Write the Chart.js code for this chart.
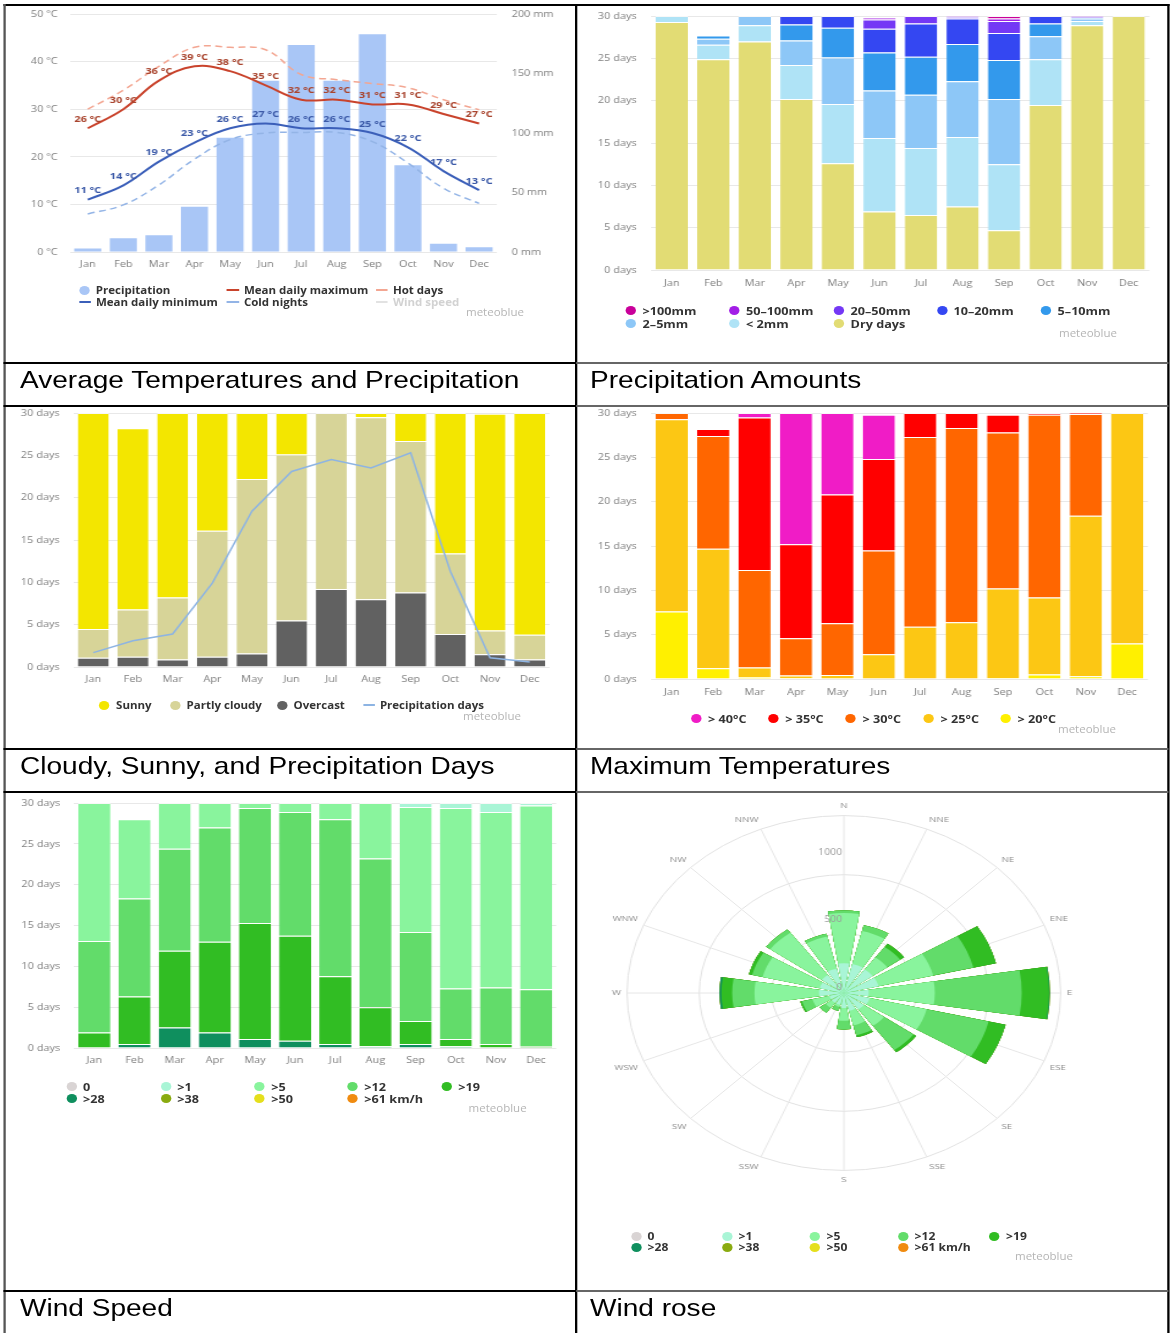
<!DOCTYPE html>
<html lang="en">
<head>
<meta charset="utf-8">
<title>Climate charts</title>
<script src="https://cdn.jsdelivr.net/npm/chart.js@4.4.1/dist/chart.umd.min.js"></script>
<style>
  html, body { margin: 0; padding: 0; background: #fff; width: 1172px; height: 1333px; overflow: hidden; }
  #root { position: absolute; left: 0; top: 0; height: 1333px; transform-origin: 0 0; font-family: "Open Sans", sans-serif; }
  .box, .rule, .cap, .lg, .mb { position: absolute; }
  .cap { font-family: "Liberation Sans", Arial, sans-serif; font-size: 24.4px; color: #000; white-space: nowrap; }
  .lg { display: flex; align-items: center; height: 16px; white-space: nowrap; font-weight: 700; color: #333; }
  .dot { width: 9px; height: 9px; border-radius: 50%; margin-right: 5.6px; flex: none; }
  .ln { width: 10.4px; height: 0; border-top: 2px solid; margin-right: 4.3px; flex: none; }
  .mb { font-size: 10px; color: #b5b5b5; line-height: 14px; }
</style>
</head>
<body>
<div id="root"></div>
<script>
// ---------- data ----------
const months = ['Jan', 'Feb', 'Mar', 'Apr', 'May', 'Jun', 'Jul', 'Aug', 'Sep', 'Oct', 'Nov', 'Dec'];

// 1. average temperatures and precipitation
const degTicks = [0, 10, 20, 30, 40, 50];
const mmTicks = [0, 50, 100, 150, 200];
const precipMm = [3, 11.5, 14, 38, 96, 144, 174, 144, 183, 73, 7, 4];
const meanMax = [26, 30, 36, 39, 38, 35, 32, 32, 31, 31, 29, 27];
const meanMin = [11, 14, 19, 23, 26, 27, 26, 26, 25, 22, 17, 13];
const hotDays = [30, 34, 39, 43, 43, 42.5, 37.3, 36.2, 35.4, 34.5, 32, 29.9];
const coldNights = [8, 9.9, 14.1, 19.5, 23.6, 25, 25.1, 25.1, 23.2, 18.7, 13.4, 10.2];

// 2. precipitation amounts (days per month)
const dayTicks = [0, 5, 10, 15, 20, 25, 30];
const rainOver100 = [0, 0, 0, 0, 0, 0, 0, 0, 0.3, 0, 0, 0];
const rain50to100 = [0, 0, 0, 0, 0, 0.2, 0, 0.1, 0.3, 0, 0.1, 0];
const rain20to50 = [0, 0, 0, 0, 0, 1.1, 0.9, 0.2, 1.4, 0, 0.1, 0];
const rain10to20 = [0, 0, 0, 1.0, 1.4, 2.8, 3.9, 3.0, 3.2, 0.9, 0, 0];
const rain5to10 = [0, 0.4, 0, 1.9, 3.5, 4.5, 4.5, 4.4, 4.6, 1.5, 0.1, 0];
const rain2to5 = [0, 0.7, 1.1, 2.9, 5.5, 5.6, 6.3, 6.6, 7.7, 2.7, 0.3, 0];
const rainUnder2 = [0.7, 1.7, 1.9, 4.0, 7.0, 8.7, 7.9, 8.2, 7.8, 5.4, 0.5, 0];
const dryDays = [29.3, 24.9, 27.0, 20.2, 12.6, 6.9, 6.5, 7.5, 4.7, 19.5, 28.9, 30];

// 3. cloudy, sunny and precipitation days
const sunnyDays = [25.5, 21.4, 21.8, 13.9, 7.8, 4.9, 0, 0.5, 3.3, 16.6, 25.6, 26.2];
const partlyCloudy = [3.4, 5.6, 7.3, 14.9, 20.6, 19.6, 20.8, 21.5, 17.9, 9.5, 2.8, 2.9];
const overcastDays = [1.1, 1.2, 0.9, 1.2, 1.6, 5.5, 9.2, 8.0, 8.8, 3.9, 1.5, 0.9];
const precipDays = [1.7, 3.1, 3.9, 9.9, 18.4, 23.1, 24.5, 23.5, 25.3, 11.3, 1.1, 0.6];

// 4. maximum temperatures (days)
const over40 = [0, 0, 0.5, 14.8, 9.2, 5.0, 0, 0, 0, 0, 0, 0];
const over35 = [0, 0.8, 17.2, 10.6, 14.5, 10.3, 2.7, 1.7, 2.0, 0.2, 0.1, 0];
const over30 = [0.7, 12.7, 11.0, 4.2, 5.85, 11.7, 21.4, 21.9, 17.6, 20.6, 11.5, 0];
const over25 = [21.7, 13.5, 1.1, 0.3, 0.45, 2.8, 5.9, 6.4, 10.1, 8.7, 18.1, 26.0];
const over20 = [7.6, 1.2, 0.2, 0.1, 0, 0, 0, 0, 0.1, 0.5, 0.3, 4.0];

// 5. wind speed (days)
const windCalm = [0, 0, 0, 0, 0, 0, 0, 0, 0, 0, 0, 0];
const windOver1 = [0, 0, 0, 0, 0, 0, 0, 0, 0.5, 0.6, 1.1, 0.3];
const windOver5 = [16.9, 9.7, 5.6, 3.0, 0.6, 1.1, 2.0, 6.8, 15.3, 22.1, 21.5, 22.5];
const windOver12 = [11.2, 12.0, 12.5, 14.0, 14.1, 15.15, 19.2, 18.2, 10.9, 6.2, 6.9, 6.95];
const windOver19 = [1.9, 5.8, 9.4, 11.1, 14.2, 12.85, 8.3, 4.8, 2.8, 0.9, 0.5, 0.25];
const windOver28 = [0, 0.5, 2.5, 1.9, 1.1, 0.9, 0.5, 0.2, 0.5, 0.2, 0, 0];
const windOver38 = [0, 0, 0, 0, 0, 0, 0, 0, 0, 0, 0, 0];
const windOver50 = [0, 0, 0, 0, 0, 0, 0, 0, 0, 0, 0, 0];
const windOver61 = [0, 0, 0, 0, 0, 0, 0, 0, 0, 0, 0, 0];

// 6. wind rose (hours per direction and speed class)
const roseDirs = ['N', 'NNE', 'NE', 'ENE', 'E', 'ESE', 'SE', 'SSE', 'S', 'SSW', 'SW', 'WSW', 'W', 'WNW', 'NW', 'NNW'];
const roseTicks = [0, 500, 1000];
const roseMax = 1310;
const roseCalm = [0, 0, 0, 0, 0, 0, 0, 0, 0, 0, 0, 0, 0, 0, 0, 0];
const roseOver1 = [220, 220, 215, 215, 150, 160, 150, 135, 110, 90, 90, 90, 150, 150, 165, 185];
const roseOver5 = [370, 250, 110, 340, 400, 355, 150, 110, 95, 15, 45, 105, 390, 355, 385, 245];
const roseOver12 = [20, 45, 95, 250, 525, 385, 220, 75, 65, 30, 45, 65, 135, 65, 30, 20];
const roseOver19 = [0, 0, 30, 140, 165, 105, 20, 15, 0, 0, 0, 10, 65, 20, 0, 0];
const roseOver28 = [0, 0, 0, 0, 5, 0, 0, 0, 0, 0, 0, 0, 12, 0, 0, 0];
const roseOver38 = [0, 0, 0, 0, 0, 0, 0, 0, 0, 0, 0, 0, 0, 0, 0, 0];
const roseOver50 = [0, 0, 0, 0, 0, 0, 0, 0, 0, 0, 0, 0, 0, 0, 0, 0];
const roseOver61 = [0, 0, 0, 0, 0, 0, 0, 0, 0, 0, 0, 0, 0, 0, 0, 0];

// ---------- series (top of stack first, as in the legends) ----------
const rainSeries = [
  { name: '>100mm', data: rainOver100, color: '#c9009a' },
  { name: '50–100mm', data: rain50to100, color: '#a21ee6' },
  { name: '20–50mm', data: rain20to50, color: '#7438f5' },
  { name: '10–20mm', data: rain10to20, color: '#3447f2' },
  { name: '5–10mm', data: rain5to10, color: '#3399ec' },
  { name: '2–5mm', data: rain2to5, color: '#8dc7f7' },
  { name: '< 2mm', data: rainUnder2, color: '#afe3f6' },
  { name: 'Dry days', data: dryDays, color: '#e2dc74' }
];
const skySeries = [
  { name: 'Sunny', data: sunnyDays, color: '#f3e600' },
  { name: 'Partly cloudy', data: partlyCloudy, color: '#d7d498' },
  { name: 'Overcast', data: overcastDays, color: '#616161' }
];
const heatSeries = [
  { name: '> 40°C', data: over40, color: '#f01cc6' },
  { name: '> 35°C', data: over35, color: '#ff0000' },
  { name: '> 30°C', data: over30, color: '#ff6600' },
  { name: '> 25°C', data: over25, color: '#fcc714' },
  { name: '> 20°C', data: over20, color: '#fff000' }
];
const windClasses = [
  { name: '0', color: '#d9d4d4' }, { name: '>1', color: '#a9f5d6' }, { name: '>5', color: '#89f49d' },
  { name: '>12', color: '#62dc6a' }, { name: '>19', color: '#31bd23' }, { name: '>28', color: '#0f8f5e' },
  { name: '>38', color: '#8aab10' }, { name: '>50', color: '#e5df1c' }, { name: '>61 km/h', color: '#f08b10' }
];
const windData = [windCalm, windOver1, windOver5, windOver12, windOver19, windOver28, windOver38, windOver50, windOver61];
const roseData = [roseCalm, roseOver1, roseOver5, roseOver12, roseOver19, roseOver28, roseOver38, roseOver50, roseOver61];
const windSeries = windClasses.map((c, i) => ({ name: c.name, color: c.color, data: windData[i] }));

// ---------- page frame ----------
const S = 1.15;              // the reference picture is stretched sideways
const X = v => v / S;
const root = document.getElementById('root');
root.style.width = X(1172) + 'px';
root.style.transform = `scaleX(${S})`;

Chart.defaults.font.family = '"Open Sans", sans-serif';
Chart.defaults.font.size = 9.5;
Chart.defaults.color = '#7f7f7f';

function add(cls, css, text) {
  const d = document.createElement('div');
  d.className = cls;
  Object.assign(d.style, css);
  if (text !== undefined) d.textContent = text;
  root.appendChild(d);
  return d;
}
function rule(x, y, w, h, color) {
  add('rule', { left: X(x) + 'px', top: y + 'px', width: X(w) + 'px', height: h + 'px', background: color });
}
function caption(text, x, top, h) {
  add('cap', { left: X(x) + 'px', top: top + 'px', height: h + 'px', lineHeight: h + 'px' }, text);
}
function watermark(x, y) {
  add('mb', { left: X(x) + 'px', top: (y - 7) + 'px' }, 'meteoblue');
}
// items go row by row over the given column positions
function legend(items, xs, ys, size) {
  items.forEach((it, i) => {
    const el = add('lg', { left: X(xs[i % xs.length]) + 'px', top: (ys[Math.floor(i / xs.length)] - 8) + 'px', fontSize: size + 'px' });
    const mark = document.createElement('span');
    mark.className = it.kind === 'dot' ? 'dot' : 'ln';
    if (it.kind === 'dot') mark.style.background = it.color;
    else mark.style.borderTop = `2px ${it.kind === 'dash' ? 'dashed' : 'solid'} ${it.color}`;
    const txt = document.createElement('span');
    txt.textContent = it.name;
    if (it.muted) txt.style.color = '#d2d2d2';
    el.append(mark, txt);
  });
}
const dots = series => series.map(s => ({ name: s.name, color: s.color, kind: 'dot' }));

// table rules
rule(4, 4, 1165, 2, '#000');
rule(4, 4, 2, 1329, '#555');
rule(575, 4, 2, 1329, '#000');
rule(1167, 4, 2, 1329, '#000');
[362, 405, 748, 791, 1290].forEach(y => { rule(4, y, 572, 2, '#000'); rule(576, y, 592, 1.5, '#666'); });

caption('Average Temperatures and Precipitation', 20, 359, 41);
caption('Precipitation Amounts', 590, 359, 41);
caption('Cloudy, Sunny, and Precipitation Days', 20, 745, 41);
caption('Maximum Temperatures', 590, 745, 41);
caption('Wind Speed', 20, 1287, 41);
caption('Wind rose', 590, 1287, 41);

// ---------- chart helpers ----------
function place(box) {
  const wrap = add('box', { left: X(box.x) + 'px', top: box.y + 'px', width: X(box.w) + 'px', height: box.h + 'px' });
  const cv = document.createElement('canvas');
  wrap.appendChild(cv);
  return cv;
}
// fixes the plot area of a chart to the rectangle
function frame(box, plot, rightAxis) {
  const right = X(box.x + box.w - plot.r);
  return {
    padding: { top: plot.t - box.y, right: rightAxis ? 0 : right, bottom: 0, left: 0 },
    leftW: X(plot.l - box.x), rightW: right, bottomH: box.y + box.h - plot.b
  };
}
function baseOptions(f, scales) {
  return {
    responsive: true, maintainAspectRatio: false, animation: false, events: [],
    layout: { padding: f.padding },
    plugins: { legend: { display: false }, tooltip: { enabled: false } },
    scales
  };
}
function monthAxis(f, stacked, pad) {
  return {
    type: 'category', stacked, offset: true,
    grid: { display: false, drawTicks: false }, border: { display: false },
    ticks: { padding: pad, maxRotation: 0, autoSkip: false },
    afterFit: s => { s.height = f.bottomH; }
  };
}
// the gap between labels and plot is an invisible tick mark, so it does not push the plot down
function valueAxis(f, ticks, unit, gap, extra) {
  return Object.assign({
    type: 'linear', position: 'left', min: ticks[0], max: ticks[ticks.length - 1],
    grid: { color: '#e8e8e8', tickLength: gap, tickColor: 'transparent' }, border: { display: false },
    ticks: { stepSize: ticks[1] - ticks[0], padding: 0, callback: v => v + unit },
    afterFit: s => { s.width = f.leftW; }
  }, extra);
}
function stackedChart(box, plot, series, barPct, xPad, labelRight, extra) {
  const f = frame(box, plot, false);
  const bars = series.slice().reverse().map(s => ({
    type: 'bar', label: s.name, data: s.data, backgroundColor: s.color,
    borderColor: 'rgba(255,255,255,0.7)', borderWidth: { top: 1, right: 0, bottom: 0, left: 0 },
    barPercentage: barPct, categoryPercentage: 1, stack: 'days', order: 1
  }));
  return new Chart(place(box), {
    data: { labels: months, datasets: bars.concat(extra || []) },
    options: baseOptions(f, {
      x: monthAxis(f, true, xPad),
      y: valueAxis(f, dayTicks, ' days', X(plot.l - labelRight), { stacked: true })
    })
  });
}

// value labels above the temperature lines
const valueLabels = {
  id: 'valueLabels',
  afterDatasetsDraw(chart) {
    const ctx = chart.ctx;
    chart.data.datasets.forEach((ds, i) => {
      if (!ds.valueColor) return;
      ctx.save();
      ctx.font = 'bold 9.5px "Open Sans"';
      ctx.fillStyle = ds.valueColor;
      ctx.textAlign = 'center';
      ctx.textBaseline = 'middle';
      chart.getDatasetMeta(i).data.forEach((pt, j) => ctx.fillText(ds.data[j] + ' °C', pt.x, pt.y - 9));
      ctx.restore();
    });
  }
};

// ---------- 1. average temperatures and precipitation ----------
const box1 = { x: 5, y: 5, w: 565, h: 275 }, plot1 = { l: 70.25, r: 496.25, t: 14, b: 252 };
const f1 = frame(box1, plot1, true);
const line = (label, data, color, width, dash, extra) => Object.assign({
  type: 'line', label, data, yAxisID: 'deg', borderColor: color, borderWidth: width,
  borderDash: dash, pointRadius: 0, tension: 0.4, fill: false, order: 1
}, extra);
new Chart(place(box1), {
  data: {
    labels: months,
    datasets: [
      { type: 'bar', label: 'Precipitation', data: precipMm, yAxisID: 'mm', backgroundColor: '#a9c6f6', barPercentage: 0.76, categoryPercentage: 1, order: 5 },
      line('Hot days', hotDays, '#f3a692', 1.5, [6, 4]),
      line('Cold nights', coldNights, '#93b4e6', 1.5, [6, 4]),
      line('Mean daily maximum', meanMax, '#c9432c', 2, [], { valueColor: '#a9452f' }),
      line('Mean daily minimum', meanMin, '#3b5fb9', 2, [], { valueColor: '#3c5aa8' })
    ]
  },
  options: baseOptions(f1, {
    x: monthAxis(f1, false, 6.3),
    deg: valueAxis(f1, degTicks, ' °C', X(plot1.l - 58)),
    mm: valueAxis(f1, mmTicks, ' mm', 0, {
      position: 'right',
      grid: { drawOnChartArea: false, tickLength: X(511 - plot1.r), tickColor: 'transparent' },
      afterFit: s => { s.width = f1.rightW; }
    })
  }),
  plugins: [valueLabels]
});
legend([
  { name: 'Precipitation', color: '#a9c6f6', kind: 'dot' },
  { name: 'Mean daily maximum', color: '#c9432c', kind: 'line' },
  { name: 'Hot days', color: '#f3a692', kind: 'dash' },
  { name: 'Mean daily minimum', color: '#3b5fb9', kind: 'line' },
  { name: 'Cold nights', color: '#93b4e6', kind: 'dash' },
  { name: 'Wind speed', color: '#e2e2e2', kind: 'line', muted: true }
], [79, 227, 376], [290, 302], 10);
watermark(466, 312);

// ---------- 2. precipitation amounts ----------
stackedChart({ x: 580, y: 5, w: 585, h: 291 }, { l: 651.3, r: 1148.7, t: 16, b: 270 }, rainSeries, 0.78, 7.3, 637);
legend(dots(rainSeries), [625.8, 729.3, 833.8, 936.8, 1040.8], [310, 323], 11);
watermark(1059, 333);

// ---------- 3. cloudy, sunny and precipitation days ----------
stackedChart({ x: 5, y: 406, w: 565, h: 287 }, { l: 73.7, r: 548.8, t: 413, b: 667 }, skySeries, 0.78, 6.3, 60, [{
  type: 'line', label: 'Precipitation days', data: precipDays, borderColor: '#8db4e3', borderWidth: 1.5,
  pointRadius: 0, tension: 0, stack: 'line', order: 0
}]);
legend(dots(skySeries).concat([{ name: 'Precipitation days', color: '#8db4e3', kind: 'line' }]),
  [99.3, 169.8, 276.8, 363], [705], 10);
watermark(463, 716);

// ---------- 4. maximum temperatures ----------
stackedChart({ x: 580, y: 406, w: 585, h: 299 }, { l: 651.3, r: 1147.2, t: 413, b: 679 }, heatSeries, 0.78, 7.3, 637);
legend(dots(heatSeries), [691.3, 768.4, 845.8, 923.8, 1000.8], [718], 11);
watermark(1058, 729);

// ---------- 5. wind speed ----------
stackedChart({ x: 5, y: 795, w: 565, h: 279 }, { l: 74.5, r: 555.5, t: 803, b: 1048 }, windSeries, 0.8, 6.3, 60.5);
legend(dots(windSeries), [66.3, 160.5, 254.4, 347.6, 441.4], [1086, 1098], 11);
watermark(468.6, 1108);

// ---------- 6. wind rose ----------
// petals take 18° of each 22.5° sector; element 0 is the lead-in gap and N comes last so
// every petal is centred on its direction line
const PETAL = 18;
function petals(values) {
  const out = [0];
  for (let d = 1; d < values.length; d++) out.push(values[d], 0);
  out.push(values[0]);
  return out;
}
const petalAngles = [22.5 - PETAL / 2];
for (let d = 1; d < roseDirs.length; d++) petalAngles.push(PETAL, 22.5 - PETAL);
petalAngles.push(PETAL);

let acc = roseDirs.map(() => 0);
const roseSets = windClasses.map((c, k) => {
  acc = acc.map((v, d) => v + roseData[k][d]);
  return { label: c.name, data: petals(acc), backgroundColor: c.color, borderWidth: 0, angle: ctx => petalAngles[ctx.dataIndex] };
});

const roseTickLabels = {
  id: 'roseTickLabels',
  afterDraw(chart) {
    const r = chart.scales.r, ctx = chart.ctx;
    ctx.save();
    ctx.font = '8.5px "Open Sans"';
    ctx.fillStyle = '#9a9a9a';
    ctx.textAlign = 'right';
    ctx.textBaseline = 'bottom';
    roseTicks.forEach(v => ctx.fillText(String(v), r.xCenter - 1.5, r.yCenter - r.getDistanceFromCenterForValue(v) - 1));
    ctx.restore();
  }
};

const S2 = 1.222 / S;          // the rose picture is stretched even more
const RW = 440, RH = 384;
const roseWrap = add('box', {
  left: (X(844) - (RW / 2) * S2) + 'px', top: (994 - RH / 2) + 'px', width: RW + 'px', height: RH + 'px',
  transform: `scaleX(${S2})`, transformOrigin: '0 0'
});
const roseCanvas = document.createElement('canvas');
roseWrap.appendChild(roseCanvas);
new Chart(roseCanvas, {
  type: 'polarArea',
  data: { labels: roseDirs, datasets: roseSets },
  options: {
    responsive: true, maintainAspectRatio: false, animation: false, events: [],
    layout: { padding: 0 },
    plugins: { legend: { display: false }, tooltip: { enabled: false } },
    scales: {
      r: {
        min: 0, max: roseMax, startAngle: 0,
        ticks: { display: false, stepSize: roseTicks[1] - roseTicks[0] },
        grid: { circular: true, color: '#e2e2e2' },
        angleLines: { display: true, color: '#e6e6e6' },
        pointLabels: { display: true, font: { size: 8 }, color: '#8a8a8a', padding: 5 }
      }
    }
  },
  plugins: [roseTickLabels]
});
legend(dots(windSeries), [630.8, 721.8, 809.8, 897.8, 989.3], [1236, 1247], 10.5);
watermark(1015, 1256);
</script>
</body>
</html>
